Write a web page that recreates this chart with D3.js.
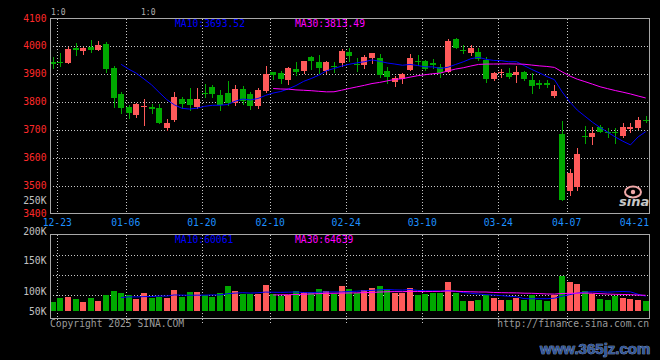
<!DOCTYPE html>
<html><head><meta charset="utf-8">
<script src="https://cdn.jsdelivr.net/npm/d3@7"></script>
<style>html,body{margin:0;padding:0;background:#000;}svg{display:block}</style>
</head><body>
<svg id="c" width="660" height="360"></svg>
<script>
const dates = ["12-23","12-24","12-25","12-26","12-27","12-30","12-31","01-02","01-03","01-06","01-07","01-08","01-09","01-10","01-13","01-14","01-15","01-16","01-17","01-20","01-21","01-22","01-23","01-24","01-27","02-05","02-06","02-07","02-10","02-11","02-12","02-13","02-14","02-17","02-18","02-19","02-20","02-21","02-24","02-25","02-26","02-27","02-28","03-03","03-04","03-05","03-06","03-07","03-10","03-11","03-12","03-13","03-14","03-17","03-18","03-19","03-20","03-21","03-24","03-25","03-26","03-27","03-28","03-31","04-01","04-02","04-03","04-07","04-08","04-09","04-10","04-11","04-14","04-15","04-16","04-17","04-18","04-21","04-22"];
const opens = [3942.7,3943.8,3938.1,3994.0,3982.1,3996.5,3985.7,4008.3,3920.1,3827.0,3782.6,3752.9,3780.4,3780.4,3779.0,3707.4,3735.0,3809.1,3811.3,3782.6,3832.8,3854.2,3824.5,3832.8,3796.9,3844.9,3828.1,3785.1,3838.8,3908.0,3904.4,3878.2,3917.6,3911.6,3960.6,3942.7,3911.6,3929.5,3938.1,3978.5,3934.5,3932.0,3956.0,3956.0,3911.6,3870.0,3881.8,3914.1,3946.3,3946.3,3940.0,3923.7,3908.0,4025.1,3987.0,3976.0,3979.6,3949.9,3880.7,3902.2,3904.4,3896.1,3908.0,3878.2,3866.4,3866.4,3822.0,3684.8,3480.6,3496.0,3677.6,3673.0,3708.8,3693.1,3693.0,3677.6,3702.7,3707.4,3735.0];
const highs = [3961.7,3973.9,3997.5,4011.9,3997.5,4021.5,4016.9,4014.4,3929.5,3836.3,3788.7,3794.8,3810.2,3792.3,3791.0,3737.4,3836.3,3816.3,3850.7,3848.5,3863.9,3860.3,3842.4,3874.7,3860.3,3856.7,3836.3,3850.7,3928.4,3908.0,3910.5,3925.9,3942.7,3946.3,3964.2,3967.8,3947.4,3942.7,3989.3,3991.8,3956.0,3967.8,3973.9,3971.4,3925.9,3892.6,3902.2,3971.4,3967.8,3950.0,3953.5,3934.5,4024.0,4029.8,4003.6,4003.6,3991.8,3961.7,3908.0,3916.6,3920.1,3928.4,3911.6,3902.2,3878.2,3878.2,3860.3,3732.5,3558.4,3635.8,3713.5,3711.0,3717.0,3705.2,3705.0,3723.1,3723.1,3744.6,3749.3];
const lows = [3920.2,3929.5,3938.1,3967.8,3971.4,3977.5,3985.7,3908.0,3782.6,3759.0,3741.0,3746.8,3717.0,3761.1,3725.3,3699.1,3732.5,3779.0,3770.8,3776.9,3818.4,3818.4,3770.8,3788.7,3788.7,3792.3,3774.4,3778.0,3834.6,3880.8,3866.4,3863.9,3896.1,3904.4,3916.6,3902.2,3902.2,3908.0,3928.4,3947.4,3911.6,3922.3,3938.1,3890.1,3868.6,3856.7,3868.6,3914.1,3932.0,3913.0,3922.3,3890.1,3905.0,3991.8,3973.9,3967.8,3948.0,3872.2,3878.2,3890.1,3884.3,3872.2,3878.2,3832.7,3848.5,3852.0,3818.4,3448.4,3466.3,3484.2,3653.6,3649.0,3693.1,3675.1,3651.5,3675.1,3693.1,3703.8,3729.0];
const closes = [3935.5,3938.1,3988.2,3985.7,3994.0,3985.7,4003.6,3917.6,3814.8,3779.0,3761.1,3792.3,3785.1,3773.3,3725.3,3725.3,3818.4,3791.2,3788.7,3811.3,3827.0,3828.1,3788.7,3796.9,3844.9,3804.1,3785.1,3842.4,3899.7,3896.1,3881.8,3922.3,3908.0,3946.3,3947.4,3922.3,3942.7,3925.9,3982.1,3964.2,3933.0,3961.7,3973.9,3896.1,3887.9,3884.3,3898.7,3956.0,3942.7,3916.6,3932.0,3904.4,4019.0,3994.0,3983.0,3994.0,3952.4,3881.8,3904.4,3908.0,3890.1,3908.0,3881.8,3856.7,3860.3,3860.3,3840.0,3448.4,3544.1,3613.2,3673.0,3689.5,3693.1,3689.5,3688.0,3708.8,3708.8,3735.0,3731.4];
const volumes = [36900,53300,58600,49200,36900,53300,41000,65600,82000,73800,65600,49200,73800,53300,56200,53300,86100,56200,77900,77900,65600,58600,73800,102500,82000,69700,69700,69700,106600,69700,61500,65600,82000,77900,77900,90200,82000,69700,102500,90200,73800,86100,94300,102500,90200,73800,73800,94300,65600,69700,73800,73800,118900,73800,41000,41000,45100,65600,53300,45100,45100,53300,45100,65600,45100,41000,65600,144700,118900,110700,82000,69700,49200,45100,61500,53300,49200,45100,41000];
const priceTicks = [3400,3500,3600,3700,3800,3900,4000,4100];
const dateTicks = ["12-23","01-06","01-20","02-10","02-24","03-10","03-24","04-07","04-21"];
const volTickValues = [250000,200000,150000,100000,50000];
const volTickLabels = ["250K","200K","150K","100K","50K"];
const priceMaLabels = ["MA10:3693.52","MA30:3813.49"];
const volMaLabels = ["MA10:60061","MA30:64639"];

const W=660,H=360, L=50, R=649.5, PT=18.5, PB=213.5, VT=234.5, VB=318.5;
const RED="#ff5a5a", GREEN="#00a800", GRID="#c8c8c8", FRAME="#a8a8a8";
const FONT="'DejaVu Sans Mono', monospace";
const svg=d3.select('#c');
svg.append('rect').attr('width',W).attr('height',H).attr('fill','#000');

const n=dates.length;
const x=d3.scaleLinear().domain([0,n-1]).range([52.7,645.7]);
const y=d3.scaleLinear().domain([3400,4100]).range([213.5,18]);
const yv=d3.scaleLinear().domain([0,200000]).range([311,262.2]);
const yvLab=d3.scaleLinear().domain([50000,100000,150000,200000,250000]).range([311,291,260,231,200]);
const px=v=>Math.round(v)+0.5;

// grids
const g=svg.append('g').attr('shape-rendering','crispEdges');
priceTicks.filter(v=>v>3400&&v<4100).forEach(v=>{
  const yy=Math.round(y(v));
  g.append('line').attr('x1',L).attr('x2',R).attr('y1',yy).attr('y2',yy)
   .attr('stroke',GRID).attr('stroke-dasharray','1,2');
});
[255.5,275.5,295.5].forEach(yy=>{
  g.append('line').attr('x1',L).attr('x2',R).attr('y1',yy).attr('y2',yy).attr('stroke',GRID).attr('stroke-dasharray','1,2');
});
dateTicks.forEach((d,k)=>{
  if(k===dateTicks.length-1) return;
  const xx=px(x(dates.indexOf(d))+4.6);
  g.append('line').attr('x1',xx).attr('x2',xx).attr('y1',PT).attr('y2',PB).attr('stroke',GRID).attr('stroke-dasharray','1,2');
  g.append('line').attr('x1',xx).attr('x2',xx).attr('y1',VT).attr('y2',VB+4).attr('stroke',GRID).attr('stroke-dasharray','1,2');
});

function ma(arr,k){return arr.map((_,i)=> i<k-1?null:d3.mean(arr.slice(i-k+1,i+1)));}

// candles and volume bars
const cg=svg.append('g').attr('shape-rendering','crispEdges');
for(let i=0;i<n;i++){
  const up=closes[i]>=opens[i];
  const col=up?RED:GREEN;
  const c=Math.round(x(i));
  cg.append('line').attr('x1',c+0.5).attr('x2',c+0.5)
    .attr('y1',Math.round(y(highs[i]))).attr('y2',Math.round(y(lows[i]))+1).attr('stroke',col);
  const top=Math.round(y(Math.max(opens[i],closes[i])));
  const bot=Math.round(y(Math.min(opens[i],closes[i])));
  cg.append('rect').attr('x',c-3).attr('width',6).attr('y',top).attr('height',Math.max(1,bot-top)).attr('fill',col);
  const vt=Math.round(yv(volumes[i]));
  cg.append('rect').attr('x',c-3).attr('width',6).attr('y',vt).attr('height',311-vt).attr('fill',col);
}

// moving averages
const ma10=ma(closes,10), ma30=ma(closes,30);
const vma10=ma(volumes,10), vma30=ma(volumes,30);
const lineP=d3.line().defined(d=>d.v!=null).x(d=>x(d.i)).y(d=>y(d.v));
const lineV=d3.line().defined(d=>d.v!=null).x(d=>x(d.i)).y(d=>yv(d.v));
const toPts=a=>a.map((v,i)=>({i,v}));
svg.append('path').attr('d',lineP(toPts(ma10))).attr('fill','none').attr('stroke','#0000ff').attr('stroke-width',1);
svg.append('path').attr('d',lineP(toPts(ma30))).attr('fill','none').attr('stroke','#ff00ff').attr('stroke-width',1);
svg.append('path').attr('d',lineV(toPts(vma10))).attr('fill','none').attr('stroke','#0000ff').attr('stroke-width',1);
svg.append('path').attr('d',lineV(toPts(vma30))).attr('fill','none').attr('stroke','#ff00ff').attr('stroke-width',1);

// frames
const fg=svg.append('g').attr('shape-rendering','crispEdges');
fg.append('rect').attr('x',L).attr('y',PT).attr('width',R-L).attr('height',PB-PT).attr('fill','none').attr('stroke',FRAME);
fg.append('rect').attr('x',L).attr('y',VT).attr('width',R-L).attr('height',VB-VT).attr('fill','none').attr('stroke',FRAME);

// texts
const t=svg.append('g').attr('font-family',FONT).attr('font-size','9.7px');
priceTicks.forEach(v=>{
  t.append('text').attr('x',46.5).attr('y',y(v)+3.5).attr('text-anchor','end').attr('fill','#ff2a2a').text(v);
});
volTickValues.forEach((v,k)=>{
  t.append('text').attr('x',46.5).attr('y',yvLab(v)+3.5).attr('text-anchor','end').attr('fill','#c0c0c0').text(volTickLabels[k]);
});
dateTicks.forEach((d,k)=>{
  const last=k===dateTicks.length-1;
  const xx= last? 649 : x(dates.indexOf(d))+4.6;
  t.append('text').attr('x',xx).attr('y',225.5).attr('text-anchor',last?'end':'middle').attr('fill','#1e90ff').text(d);
});
t.append('text').attr('x',175).attr('y',27).attr('fill','#0000ff').text(priceMaLabels[0]);
t.append('text').attr('x',295).attr('y',27).attr('fill','#ff00ff').text(priceMaLabels[1]);
t.append('text').attr('x',175).attr('y',242.5).attr('fill','#0000ff').text(volMaLabels[0]);
t.append('text').attr('x',295).attr('y',242.5).attr('fill','#ff00ff').text(volMaLabels[1]);
t.append('text').attr('x',51).attr('y',15).attr('fill','#b0b0b0').attr('font-size','8px').text('1:0');
t.append('text').attr('x',141).attr('y',15).attr('fill','#b0b0b0').attr('font-size','8px').text('1:0');
t.append('text').attr('x',50).attr('y',327).attr('fill','#9a9a9a').text('Copyright 2025 SINA.COM');
t.append('text').attr('x',649).attr('y',327).attr('text-anchor','end').attr('fill','#9a9a9a').text('http://finance.sina.com.cn');

// sina logo
const lg=svg.append('g');
lg.append('ellipse').attr('cx',633).attr('cy',192).attr('rx',8).attr('ry',5.5).attr('fill','none').attr('stroke','#f0a8a8').attr('stroke-width',2);
lg.append('circle').attr('cx',633).attr('cy',192).attr('r',2.2).attr('fill','#f0a8a8');
lg.append('text').attr('x',619).attr('y',206).attr('font-family','DejaVu Sans').attr('font-weight','bold').attr('font-style','italic').attr('font-size','13px').attr('fill','#c8c8c8').text('sina');

// watermark
svg.append('text').attr('x',540).attr('y',354).attr('font-family','Liberation Sans').attr('font-weight','bold').attr('font-size','15px')
  .attr('fill','#34589a').attr('stroke','#9fb4d6').attr('stroke-width',0.7).attr('paint-order','stroke').text('www.365jz.com');
</script>
</body></html>
